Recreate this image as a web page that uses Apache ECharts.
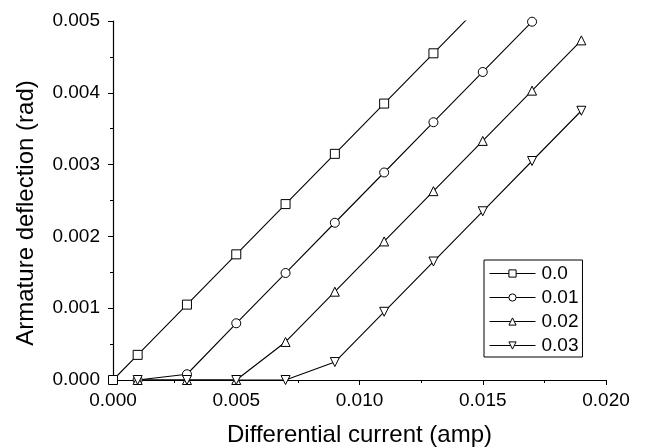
<!DOCTYPE html>
<html>
<head>
<meta charset="utf-8">
<script src="https://cdn.jsdelivr.net/npm/echarts@6/dist/echarts.min.js"></script>
<style>
  html, body { margin: 0; padding: 0; background: #fff; }
  #chart { width: 645px; height: 448px; }
</style>
</head>
<body>
<div id="chart"></div>
<script>
// differential current (amp)
const xSquare = [0.0, 0.001, 0.003, 0.005, 0.007, 0.009, 0.011, 0.013, 0.015];
const ySquare = [0.0, 0.00035, 0.00105, 0.00175, 0.00245, 0.00315, 0.00385, 0.00455, 0.00525];

const xCircle = [0.001, 0.003, 0.005, 0.007, 0.009, 0.011, 0.013, 0.015, 0.017];
const yCircle = [0.0, 0.00008, 0.00079, 0.00149, 0.00219, 0.00289, 0.00359, 0.00429, 0.00499];

const xUp = [0.001, 0.003, 0.005, 0.007, 0.009, 0.011, 0.013, 0.015, 0.017, 0.019];
const yUp = [0.0, 0.0, 0.0, 0.00053, 0.00123, 0.00193, 0.00263, 0.00333, 0.00403, 0.00473];

const xDown = [0.001, 0.003, 0.005, 0.007, 0.009, 0.011, 0.013, 0.015, 0.017, 0.019];
const yDown = [0.0, 0.0, 0.0, 0.0, 0.00025, 0.00095, 0.00165, 0.00235, 0.00305, 0.00375];

const seriesNames = ["0.0", "0.01", "0.02", "0.03"];

const font = "'Liberation Sans', Arial, sans-serif";
const downTri = "path://M0,0 L10,0 L5,9 Z";

const pairs = (xs, ys) => xs.map((x, i) => [x, ys[i]]);

const makeSeries = (name, data, symbol) => ({
  name: name,
  type: "line",
  data: data,
  symbol: symbol,
  symbolSize: 9,
  showAllSymbol: true,
  clip: true,
  lineStyle: { color: "#000", width: 1.1 },
  itemStyle: { color: "#fff", borderColor: "#000", borderWidth: 1 },
  emphasis: { disabled: true },
  z: 3,
});

const chart = echarts.init(document.getElementById("chart"));

chart.setOption({
  animation: false,
  grid: { left: 113, right: 39, top: 21, bottom: 68, outerBoundsMode: "none" },
  legend: {
    data: seriesNames,
    orient: "vertical",
    left: 484,
    top: 260,
    padding: [4, 4, 2, 5],
    itemGap: 5,
    itemWidth: 46,
    itemHeight: 9,
    borderColor: "#000",
    borderWidth: 1,
    borderRadius: 0,
    lineStyle: { width: 1, color: "#000" },
    itemStyle: { borderWidth: 1, borderColor: "#000", color: "#fff" },
    textStyle: { fontFamily: font, fontSize: 19, color: "#000", padding: [0, 0, 0, 1] },
    inactiveColor: "#000",
  },
  xAxis: {
    type: "value",
    min: 0,
    max: 0.02,
    interval: 0.005,
    name: "Differential current (amp)",
    nameLocation: "middle",
    nameGap: 43,
    nameTextStyle: { fontFamily: font, fontSize: 24, color: "#000" },
    axisLine: { show: true, lineStyle: { color: "#000", width: 1.2 } },
    axisTick: { show: true, inside: false, length: 5, lineStyle: { color: "#000" } },
    minorTick: { show: true, splitNumber: 2, length: 3, lineStyle: { color: "#000" } },
    splitLine: { show: false },
    axisLabel: {
      fontFamily: font,
      fontSize: 19,
      color: "#000",
      margin: 11,
      formatter: (v) => v.toFixed(3),
    },
  },
  yAxis: {
    type: "value",
    min: 0,
    max: 0.005,
    interval: 0.001,
    name: "Armature deflection (rad)",
    nameLocation: "middle",
    nameGap: 75,
    nameTextStyle: { fontFamily: font, fontSize: 24, color: "#000", padding: [0, 25, 0, 0] },
    axisLine: { show: true, lineStyle: { color: "#000", width: 1.2 } },
    axisTick: { show: true, inside: false, length: 5, lineStyle: { color: "#000" } },
    minorTick: { show: true, splitNumber: 2, length: 3, lineStyle: { color: "#000" } },
    splitLine: { show: false },
    axisLabel: {
      fontFamily: font,
      fontSize: 19,
      color: "#000",
      margin: 13,
      formatter: (v) => v.toFixed(3),
    },
  },
  series: [
    makeSeries(seriesNames[0], pairs(xSquare, ySquare), "rect"),
    makeSeries(seriesNames[1], pairs(xCircle, yCircle), "circle"),
    makeSeries(seriesNames[2], pairs(xUp, yUp), "triangle"),
    makeSeries(seriesNames[3], pairs(xDown, yDown), downTri),
  ],
});
</script>
</body>
</html>
